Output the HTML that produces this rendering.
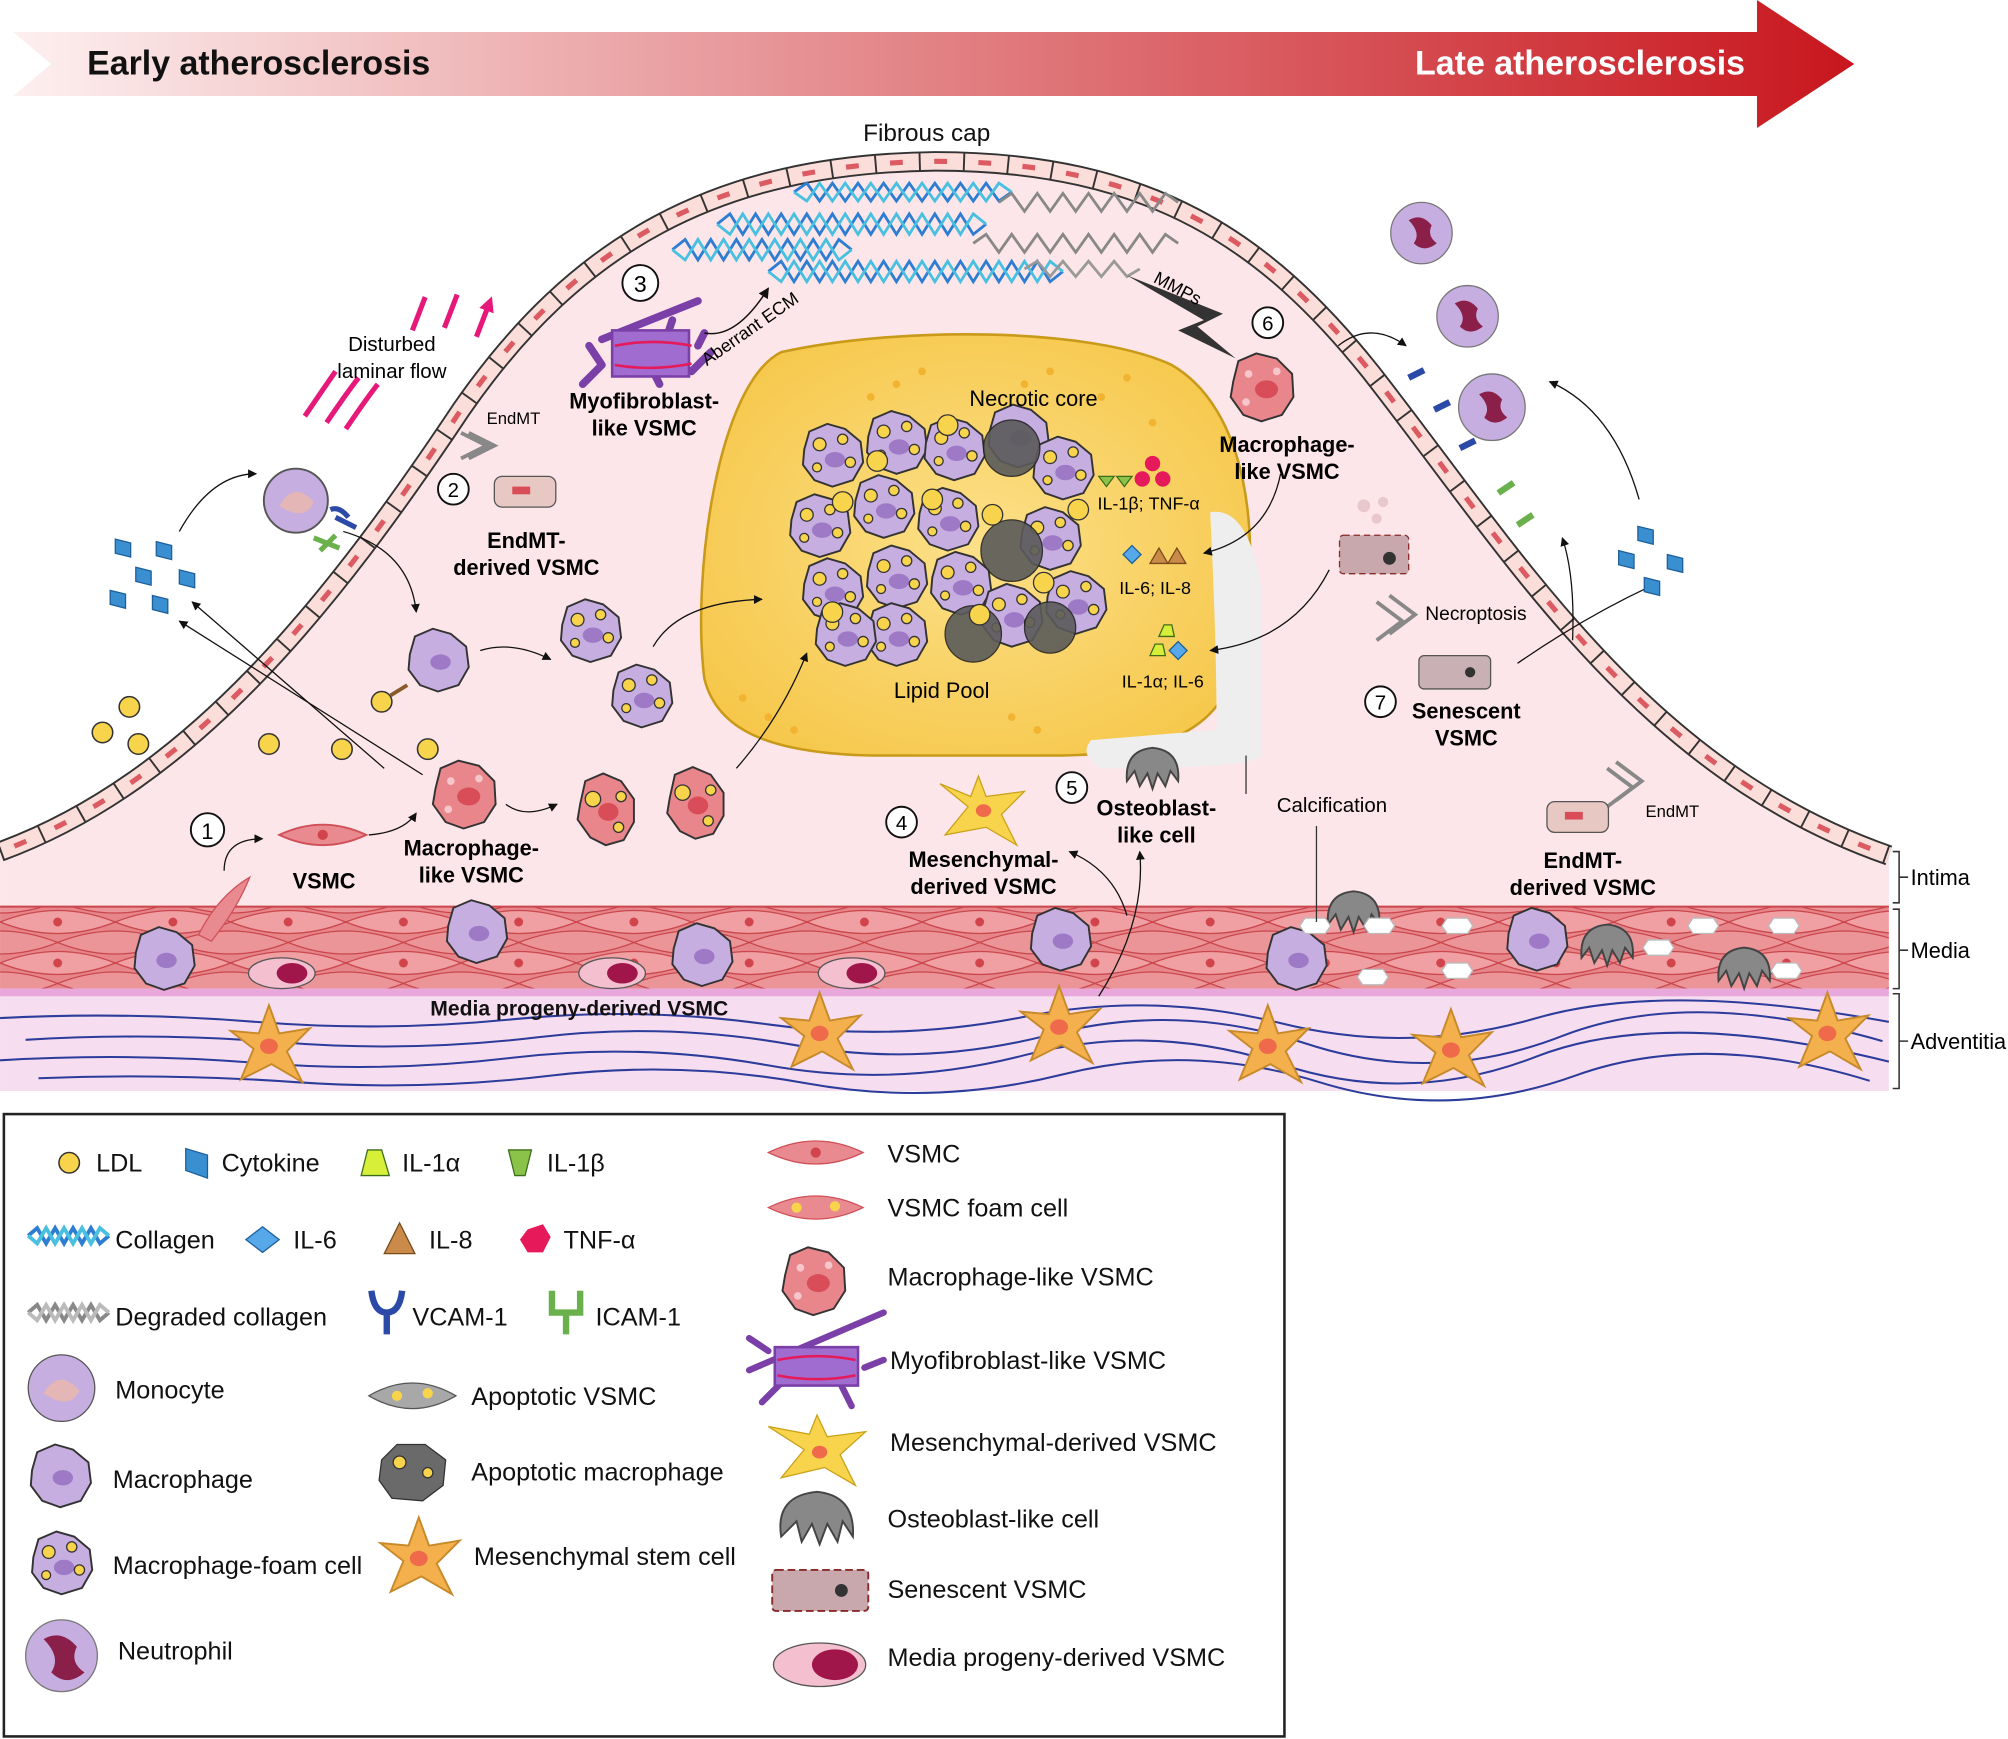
<!DOCTYPE html>
<html><head><meta charset="utf-8"><style>
html,body{margin:0;padding:0;background:#fff;}
svg{display:block;}
text{font-family:"Liberation Sans",Arial,sans-serif;}
.b{font-weight:bold;}
</style></head><body>
<svg width="2008" height="1739" viewBox="0 0 1568 1358" xmlns="http://www.w3.org/2000/svg">
<defs>
<linearGradient id="ag" x1="0" x2="1" y1="0" y2="0">
<stop offset="0" stop-color="#fdf0f0"/><stop offset="0.35" stop-color="#eaa2a4"/><stop offset="1" stop-color="#c8161d"/>
</linearGradient>
<radialGradient id="lp" cx="0.5" cy="0.5" r="0.6"><stop offset="0" stop-color="#fce089"/><stop offset="1" stop-color="#f6c74a"/></radialGradient>
<pattern id="med" width="90" height="32" patternUnits="userSpaceOnUse">
<rect width="90" height="32" fill="#e7868a"/>
<path d="M0,16 Q45,-2 90,16 Q45,34 0,16Z" fill="#f0a0a3" stroke="#c9464c" stroke-width="1"/>
<path d="M-45,0 Q0,-18 45,0 Q0,18 -45,0Z M45,0 Q90,-18 135,0 Q90,18 45,0Z M-45,32 Q0,14 45,32 Q0,50 -45,32Z M45,32 Q90,14 135,32 Q90,50 45,32Z" fill="#eb9598" stroke="#c9464c" stroke-width="1"/>
<circle cx="45" cy="16" r="3.5" fill="#d1444c"/>
</pattern>
<marker id="ar" viewBox="0 0 10 10" refX="9" refY="5" markerWidth="7" markerHeight="7" orient="auto"><path d="M0,0L10,5L0,10Z" fill="#111"/></marker>
<marker id="pk" viewBox="0 0 10 10" refX="5" refY="5" markerWidth="12" markerHeight="12" markerUnits="userSpaceOnUse" orient="auto"><path d="M0,0L10,5L0,10Z" fill="#e6197a"/></marker>
<g id="mac"><path d="M-22,-4 L-18,-18 L-4,-24 L10,-20 L22,-10 L24,6 L16,20 L0,25 L-14,20 L-23,8Z" fill="#c7aee0" stroke="#333" stroke-width="1.5"/><ellipse cx="2" cy="2" rx="8" ry="6" fill="#9d79c6"/></g>
<g id="foam"><path d="M-22,-4 L-18,-18 L-4,-24 L10,-20 L22,-10 L24,6 L16,20 L0,25 L-14,20 L-23,8Z" fill="#c7aee0" stroke="#333" stroke-width="1.5"/><ellipse cx="2" cy="4" rx="8" ry="6" fill="#9d79c6"/><circle cx="-10" cy="-8" r="5" fill="#f8d34c" stroke="#333"/><circle cx="8" cy="-12" r="4" fill="#f8d34c" stroke="#333"/><circle cx="14" cy="6" r="4" fill="#f8d34c" stroke="#333"/><circle cx="-12" cy="10" r="3.5" fill="#f8d34c" stroke="#333"/></g>
<g id="mvs"><path d="M-22,-4 L-18,-20 L-4,-26 L12,-22 L24,-10 L25,8 L16,22 L0,27 L-14,22 L-24,8Z" fill="#e8868c" stroke="#333" stroke-width="1.5"/><ellipse cx="4" cy="2" rx="9" ry="7" fill="#d94d58"/><circle cx="-10" cy="-10" r="3" fill="#f6c6cb"/><circle cx="12" cy="-12" r="3" fill="#f6c6cb"/><circle cx="-12" cy="12" r="3" fill="#f6c6cb"/></g>
<g id="mvsf"><path d="M-20,-4 L-16,-22 L-2,-28 L12,-22 L22,-8 L22,10 L14,24 L0,28 L-12,22 L-22,8Z" fill="#e8868c" stroke="#333" stroke-width="1.5"/><ellipse cx="2" cy="2" rx="8" ry="7" fill="#d94d58"/><circle cx="-10" cy="-8" r="6" fill="#f8d34c" stroke="#333"/><circle cx="12" cy="-10" r="4" fill="#f8d34c" stroke="#333"/><circle cx="10" cy="14" r="4" fill="#f8d34c" stroke="#333"/></g>
<g id="msc"><path d="M0,-30 L8,-8 L32,-12 L14,6 L26,30 L2,16 L-22,28 L-12,4 L-30,-10 L-8,-8Z" fill="#f4b04d" stroke="#c68a2a" stroke-width="1.5"/><ellipse cx="0" cy="2" rx="7" ry="6" fill="#ef6a4a"/></g>
<g id="vs"><path d="M-34,0 Q0,-16 34,0 Q0,16 -34,0Z" fill="#e98a90" stroke="#d05058" stroke-width="1.5"/><circle cx="0" cy="0" r="4" fill="#d1444c"/></g>
<g id="osteo"><path d="M-20,10 Q-22,-14 0,-16 Q22,-14 20,10 L14,2 L10,14 L4,4 L0,16 L-4,4 L-10,14 L-14,2Z" fill="#888" stroke="#444" stroke-width="1.5"/></g>
<g id="wh"><path d="M-8,-6 L8,-6 L12,0 L8,6 L-8,6 L-12,0Z" fill="#fff" stroke="#bbb"/></g>
<g id="cyt"><path d="M-6,-7 L6,-4 L6,7 L-6,4Z" fill="#3a8fd0" stroke="#1d5f9a"/></g>
<g id="ldl"><circle r="8" fill="#f8d34c" stroke="#333" stroke-width="1.2"/></g>
<g id="il6"><path d="M0,-7 L7,0 L0,7 L-7,0Z" fill="#56a8e8" stroke="#1d5f9a"/></g>
</defs>

<!-- top arrow -->
<path d="M10,25 L1372,25 L1372,0 L1448,50 L1372,100 L1372,75 L10,75 L40,50Z" fill="url(#ag)"/>
<text x="68" y="58" font-size="26.5" class="b" fill="#111">Early atherosclerosis</text>
<text x="1105" y="58" font-size="26.5" class="b" fill="#fff">Late atherosclerosis</text>

<!-- intima -->
<path d="M0,665 C150,610 260,470 360,320 C450,190 560,128 730,126 C900,126 990,190 1070,290 C1180,430 1280,600 1475,668 L1475,708 L0,708Z" fill="#fde6e9"/>
<path d="M0,665 C150,610 260,470 360,320 C450,190 560,128 730,126 C900,126 990,190 1070,290 C1180,430 1280,600 1475,668" fill="none" stroke="#333" stroke-width="16"/>
<path d="M0,665 C150,610 260,470 360,320 C450,190 560,128 730,126 C900,126 990,190 1070,290 C1180,430 1280,600 1475,668" fill="none" stroke="#fbded9" stroke-width="13"/>
<path d="M0,665 C150,610 260,470 360,320 C450,190 560,128 730,126 C900,126 990,190 1070,290 C1180,430 1280,600 1475,668" fill="none" stroke="#333" stroke-width="14" stroke-dasharray="1.5 33"/>
<path d="M0,665 C150,610 260,470 360,320 C450,190 560,128 730,126 C900,126 990,190 1070,290 C1180,430 1280,600 1475,668" fill="none" stroke="#dc5a62" stroke-width="4" stroke-dasharray="0 12 10 12.5"/>
<text x="674" y="110" font-size="19" fill="#111">Fibrous cap</text>

<!-- media & adventitia -->
<rect x="0" y="708" width="1475" height="64" fill="url(#med)"/>
<line x1="0" y1="708" x2="1475" y2="708" stroke="#c9464c" stroke-width="1.5"/>
<rect x="0" y="772" width="1475" height="80" fill="#f7ddf0"/>
<rect x="0" y="772" width="1475" height="6" fill="#e8a8dc"/>
<g fill="none" stroke="#2b3c9a" stroke-width="1.6">
<path d="M0,795 Q100,790 200,798 T400,796 T600,800 T800,794 T1000,799 T1200,795 T1475,798"/>
<path d="M20,812 Q120,806 220,814 T420,810 T620,816 T820,808 T1020,815 T1220,809 T1470,813"/>
<path d="M0,828 Q100,822 200,830 T400,826 T600,832 T800,824 T1000,831 T1200,825 T1475,829"/>
<path d="M30,842 Q130,838 230,845 T430,840 T630,846 T830,839 T1030,845 T1230,840 T1460,844"/>
</g>
<use href="#mac" x="128" y="748"/>
<use href="#mac" x="372" y="727"/><use href="#mac" x="548" y="745"/><use href="#mac" x="828" y="733"/><use href="#mac" x="1012" y="748"/><use href="#mac" x="1200" y="733"/>
<g><ellipse cx="220" cy="760" rx="26" ry="12" fill="#f4c0d0" stroke="#555"/><ellipse cx="228" cy="760" rx="12" ry="8" fill="#a0154a"/></g>
<g><ellipse cx="478" cy="760" rx="26" ry="12" fill="#f4c0d0" stroke="#555"/><ellipse cx="486" cy="760" rx="12" ry="8" fill="#a0154a"/></g>
<g><ellipse cx="665" cy="760" rx="26" ry="12" fill="#f4c0d0" stroke="#555"/><ellipse cx="673" cy="760" rx="12" ry="8" fill="#a0154a"/></g>
<use href="#osteo" x="1057" y="712"/><use href="#osteo" x="1255" y="738"/><use href="#osteo" x="1362" y="756"/>
<use href="#wh" x="1027" y="723"/><use href="#wh" x="1077" y="723"/><use href="#wh" x="1138" y="723"/><use href="#wh" x="1072" y="763"/><use href="#wh" x="1138" y="758"/><use href="#wh" x="1295" y="740"/><use href="#wh" x="1330" y="723"/><use href="#wh" x="1393" y="723"/><use href="#wh" x="1395" y="758"/>
<use href="#msc" x="210" y="815"/><use href="#msc" x="640" y="805"/><use href="#msc" x="827" y="800"/><use href="#msc" x="990" y="815"/><use href="#msc" x="1133" y="818"/><use href="#msc" x="1427" y="805"/>
<text x="336" y="793" font-size="16.5" class="b" fill="#111">Media progeny-derived VSMC</text>
<g stroke="#333" stroke-width="1.2" fill="none"><path d="M1478,665 L1483,665 L1483,705 L1478,705 M1483,685 L1490,685"/><path d="M1478,710 L1483,710 L1483,772 L1478,772 M1483,742 L1490,742"/><path d="M1478,776 L1483,776 L1483,850 L1478,850 M1483,813 L1490,813"/></g>
<text x="1492" y="691" font-size="17">Intima</text><text x="1492" y="748" font-size="17">Media</text><text x="1492" y="819" font-size="17">Adventitia</text>

<!-- collagen -->
<g fill="none" stroke-width="2.2">
<path d="M525,195 l10,-8 l10,16 l10,-16 l10,16 l10,-16 l10,16 l10,-16 l10,16 l10,-16 l10,16 l10,-16 l10,16 l10,-16 l10,8" stroke="#2d7dd2"/>
<path d="M525,195 l10,8 l10,-16 l10,16 l10,-16 l10,16 l10,-16 l10,16 l10,-16 l10,16 l10,-16 l10,16 l10,-16 l10,16 l10,-8" stroke="#49c0e0"/>
<path d="M560,175 l10,-8 l10,16 l10,-16 l10,16 l10,-16 l10,16 l10,-16 l10,16 l10,-16 l10,16 l10,-16 l10,16 l10,-16 l10,16 l10,-16 l10,16 l10,-16 l10,16 l10,-16 l10,16 l10,-8" stroke="#2d7dd2"/>
<path d="M560,175 l10,8 l10,-16 l10,16 l10,-16 l10,16 l10,-16 l10,16 l10,-16 l10,16 l10,-16 l10,16 l10,-16 l10,16 l10,-16 l10,16 l10,-16 l10,16 l10,-16 l10,16 l10,-16 l10,8" stroke="#49c0e0"/>
<path d="M600,212 l10,-8 l10,16 l10,-16 l10,16 l10,-16 l10,16 l10,-16 l10,16 l10,-16 l10,16 l10,-16 l10,16 l10,-16 l10,16 l10,-16 l10,16 l10,-16 l10,16 l10,-16 l10,16 l10,-16 l10,16 l10,-8" stroke="#2d7dd2"/>
<path d="M600,212 l10,8 l10,-16 l10,16 l10,-16 l10,16 l10,-16 l10,16 l10,-16 l10,16 l10,-16 l10,16 l10,-16 l10,16 l10,-16 l10,16 l10,-16 l10,16 l10,-16 l10,16 l10,-16 l10,16 l10,-16 l10,8" stroke="#49c0e0"/>
<path d="M620,150 l10,-7 l10,14 l10,-14 l10,14 l10,-14 l10,14 l10,-14 l10,14 l10,-14 l10,14 l10,-14 l10,14 l10,-14 l10,14 l10,-14 l10,14 l10,-7" stroke="#2d7dd2"/>
<path d="M620,150 l10,7 l10,-14 l10,14 l10,-14 l10,14 l10,-14 l10,14 l10,-14 l10,14 l10,-14 l10,14 l10,-14 l10,14 l10,-14 l10,14 l10,-14 l10,7" stroke="#49c0e0"/>
<path d="M780,158 l10,-7 l10,14 l10,-14 l10,14 l10,-14 l10,14 l10,-14 l10,14 l10,-14 l10,14 l10,-14 l10,14 l10,-14 l10,7" stroke="#888"/>
<path d="M760,190 l10,-7 l10,14 l10,-14 l10,14 l10,-14 l10,14 l10,-14 l10,14 l10,-14 l10,14 l10,-14 l10,14 l10,-14 l10,14 l10,-14 l10,7" stroke="#888"/>
<path d="M800,210 l10,-6 l10,12 l10,-12 l10,12 l10,-12 l10,12 l10,-12 l10,12 l10,-6" stroke="#999"/>
</g>
<path d="M880,215 L955,245 L935,255 L965,280 L920,258 L940,250Z" fill="#333"/>
<text x="900" y="220" font-size="14" transform="rotate(28 900 220)">MMPs</text>

<!-- lipid pool -->
<path d="M610,275 C700,255 850,255 915,285 C975,320 985,420 970,500 C960,560 930,590 820,590 L680,590 C600,588 560,570 550,530 C540,450 560,300 610,275Z" fill="url(#lp)" stroke="#c99a1a" stroke-width="2"/>
<path d="M945,400 Q975,395 985,460 L985,590 Q980,600 860,600 Q842,590 852,578 L950,570 Q950,500 945,400Z" fill="#eeeeee"/>
<g fill="#f2b330"><circle cx="800" cy="300" r="3"/><circle cx="820" cy="290" r="3"/><circle cx="860" cy="310" r="3"/><circle cx="880" cy="295" r="3"/><circle cx="900" cy="330" r="3"/><circle cx="600" cy="560" r="3"/><circle cx="620" cy="570" r="3"/><circle cx="580" cy="545" r="3"/><circle cx="790" cy="560" r="3"/><circle cx="810" cy="570" r="3"/><circle cx="700" cy="300" r="3"/><circle cx="720" cy="290" r="3"/><circle cx="680" cy="310" r="3"/></g>
<g>
<use href="#foam" x="650" y="355"/><use href="#foam" x="700" y="345"/><use href="#foam" x="745" y="350"/><use href="#mac" x="795" y="340"/>
<use href="#foam" x="640" y="410"/><use href="#foam" x="690" y="395"/><use href="#foam" x="740" y="405"/><use href="#foam" x="830" y="365"/>
<use href="#foam" x="650" y="460"/><use href="#foam" x="700" y="450"/><use href="#foam" x="750" y="455"/><use href="#foam" x="820" y="420"/>
<use href="#foam" x="700" y="495"/><use href="#foam" x="790" y="480"/><use href="#foam" x="840" y="470"/><use href="#foam" x="660" y="495"/>
<g fill="#5a5a5a" stroke="#222" opacity="0.9"><circle cx="790" cy="350" r="22"/><circle cx="790" cy="430" r="24"/><circle cx="760" cy="495" r="22"/><circle cx="820" cy="490" r="20"/></g>
<g fill="#f8d34c" stroke="#333"><circle cx="685" cy="360" r="8"/><circle cx="740" cy="332" r="8"/><circle cx="658" cy="392" r="8"/><circle cx="775" cy="402" r="8"/><circle cx="728" cy="390" r="8"/><circle cx="815" cy="455" r="8"/><circle cx="650" cy="478" r="8"/><circle cx="765" cy="480" r="8"/><circle cx="842" cy="398" r="8"/></g>
</g>
<text x="757" y="317" font-size="17">Necrotic core</text>
<text x="698" y="545" font-size="17">Lipid Pool</text>
<path d="M858,372 L864,380 L870,372Z M872,372 L878,380 L884,372Z" fill="#8bc34a" stroke="#3b6e1a"/>
<g fill="#e6195a"><circle cx="900" cy="362" r="6"/><circle cx="892" cy="374" r="6"/><circle cx="908" cy="374" r="6"/></g>
<text x="857" y="398" font-size="14">IL-1β; TNF-α</text>
<use href="#il6" x="884" y="433"/><path d="M898,440 L905,428 L912,440Z M912,440 L919,428 L926,440Z" fill="#c98a4a" stroke="#7a4a1a"/>
<text x="874" y="464" font-size="14">IL-6; IL-8</text>
<path d="M905,497 L909,488 L915,488 L917,497Z" fill="#d8ef3a" stroke="#3b6e1a"/><path d="M898,512 L902,503 L908,503 L910,512Z" fill="#d8ef3a" stroke="#3b6e1a"/><use href="#il6" x="920" y="508"/>
<text x="876" y="537" font-size="14">IL-1α; IL-6</text>
<text x="997" y="634" font-size="16">Calcification</text>
<line x1="973" y1="590" x2="973" y2="620" stroke="#333"/><line x1="1028" y1="645" x2="1028" y2="720" stroke="#333"/>

<!-- disturbed flow -->
<path d="M322,258 L332,232 M347,256 L357,230 M372,263 L382,237" stroke="#e6197a" stroke-width="4" fill="none" marker-end="url(#pk)"/>
<path d="M238,325 Q255,300 262,290 M255,330 Q272,305 280,295 M270,335 Q287,310 295,300" stroke="#e6197a" stroke-width="4" fill="none"/>
<text x="306" y="274" font-size="16" text-anchor="middle">Disturbed</text><text x="306" y="295" font-size="16" text-anchor="middle">laminar flow</text>
<text x="380" y="331" font-size="13">EndMT</text>
<path d="M360,338 L380,348 L360,358 M366,338 L386,348 L366,358" stroke="#888" fill="none" stroke-width="3"/>
<rect x="386" y="372" width="48" height="24" rx="6" fill="#e8c8c2" stroke="#555"/><rect x="400" y="380" width="14" height="6" fill="#d94d58"/>
<circle cx="354" cy="382" r="12" fill="#fff" stroke="#111" stroke-width="1.5"/><text x="354" y="388" font-size="16" text-anchor="middle">2</text>
<text x="411" y="428" font-size="17" class="b" text-anchor="middle">EndMT-</text><text x="411" y="449" font-size="17" class="b" text-anchor="middle">derived VSMC</text>
<g stroke="#7b3fa8" stroke-width="6" stroke-linecap="round" fill="none"><path d="M470,265 L545,235 M470,285 L460,270 M470,285 L455,300 M510,290 L515,300 M540,290 L555,275 M545,270 L550,260 M520,265 L525,250"/></g>
<rect x="478" y="258" width="60" height="36" fill="#a06ccf" stroke="#7b3fa8" stroke-width="2"/><path d="M480,270 Q510,264 540,270 M480,285 Q510,290 540,284" stroke="#e6195a" stroke-width="2" fill="none"/>
<circle cx="500" cy="221" r="14" fill="#fff" stroke="#111" stroke-width="1.5"/><text x="500" y="228" font-size="18" text-anchor="middle">3</text>
<text x="503" y="319" font-size="17" class="b" text-anchor="middle">Myofibroblast-</text><text x="503" y="340" font-size="17" class="b" text-anchor="middle">like VSMC</text>
<path d="M550,260 Q575,265 600,225" stroke="#111" fill="none" stroke-width="1.2" marker-end="url(#ar)"/>
<text x="552" y="286" font-size="14" transform="rotate(-35 552 286)">Aberrant ECM</text>
<circle cx="231" cy="391" r="25" fill="#c7aee0" stroke="#555" stroke-width="1.5"/><path d="M218,395 Q230,375 245,392 Q238,408 218,395Z" fill="#e4b6b6"/>
<path d="M258,398 Q265,395 272,404 M262,404 L278,412" stroke="#2b4aa8" stroke-width="4" fill="none"/>
<path d="M245,420 L265,428 M250,430 L262,418" stroke="#6ab04c" stroke-width="4" fill="none"/>
<g><use href="#cyt" x="96" y="428"/><use href="#cyt" x="128" y="430"/><use href="#cyt" x="112" y="450"/><use href="#cyt" x="146" y="452"/><use href="#cyt" x="92" y="468"/><use href="#cyt" x="125" y="472"/></g>
<path d="M140,415 Q165,370 200,370" stroke="#111" fill="none" marker-end="url(#ar)"/>
<path d="M268,415 Q320,430 325,478" stroke="#111" fill="none" marker-end="url(#ar)"/>
<path d="M330,605 L140,485" stroke="#111" fill="none" marker-end="url(#ar)"/>
<path d="M300,600 L150,470" stroke="#111" fill="none" marker-end="url(#ar)"/>
<use href="#mac" x="342" y="515"/><use href="#ldl" x="298" y="548"/><path d="M305,543 L318,535" stroke="#8a5a2a" stroke-width="3"/>
<path d="M375,508 Q400,500 430,515" stroke="#111" fill="none" marker-end="url(#ar)"/>
<use href="#foam" x="461" y="492"/><use href="#foam" x="501" y="543"/>
<path d="M510,505 Q530,470 595,468" stroke="#111" fill="none" marker-end="url(#ar)"/>
<use href="#ldl" x="80" y="572"/><use href="#ldl" x="101" y="552"/><use href="#ldl" x="108" y="581"/><use href="#ldl" x="210" y="581"/><use href="#ldl" x="267" y="585"/><use href="#ldl" x="334" y="585"/>
<use href="#mvs" x="362" y="620"/>
<path d="M395,628 Q410,640 435,628" stroke="#111" fill="none" marker-end="url(#ar)"/>
<use href="#mvsf" x="473" y="632"/><use href="#mvsf" x="543" y="627"/>
<path d="M575,600 Q610,560 630,510" stroke="#111" fill="none" marker-end="url(#ar)"/>
<circle cx="162" cy="648" r="13" fill="#fff" stroke="#111" stroke-width="1.5"/><text x="162" y="655" font-size="17" text-anchor="middle">1</text>
<path d="M175,680 Q175,655 205,655" stroke="#111" fill="none" marker-end="url(#ar)"/>
<use href="#vs" x="252" y="652"/>
<path d="M288,652 Q315,650 325,635" stroke="#111" fill="none" marker-end="url(#ar)"/>
<path d="M155,730 Q170,700 195,685 Q185,710 165,735Z" fill="#e98a90" stroke="#d05058"/>
<text x="253" y="694" font-size="17" class="b" text-anchor="middle">VSMC</text>
<text x="368" y="668" font-size="17" class="b" text-anchor="middle">Macrophage-</text><text x="368" y="689" font-size="17" class="b" text-anchor="middle">like VSMC</text>
<circle cx="704" cy="642" r="12" fill="#fff" stroke="#111" stroke-width="1.5"/><text x="704" y="648" font-size="16" text-anchor="middle">4</text>
<path d="M764,606 L770,622 L800,618 L782,636 L794,660 L770,646 L738,652 L756,630 L734,612 L758,622Z" fill="#f8d34c" stroke="#c9a21a"/><ellipse cx="768" cy="633" rx="6" ry="5" fill="#ef6a4a"/>
<text x="768" y="677" font-size="17" class="b" text-anchor="middle">Mesenchymal-</text><text x="768" y="698" font-size="17" class="b" text-anchor="middle">derived VSMC</text>
<path d="M880,715 Q870,680 835,665" stroke="#111" fill="none" marker-end="url(#ar)"/>
<path d="M858,778 Q895,720 890,665" stroke="#111" fill="none" marker-end="url(#ar)"/>
<circle cx="837" cy="615" r="12" fill="#fff" stroke="#111" stroke-width="1.5"/><text x="837" y="621" font-size="16" text-anchor="middle">5</text>
<use href="#osteo" x="900" y="600"/>
<text x="903" y="637" font-size="17" class="b" text-anchor="middle">Osteoblast-</text><text x="903" y="658" font-size="17" class="b" text-anchor="middle">like cell</text>
<circle cx="990" cy="252" r="12" fill="#fff" stroke="#111" stroke-width="1.5"/><text x="990" y="258" font-size="16" text-anchor="middle">6</text>
<use href="#mvs" x="985" y="302"/>
<text x="1005" y="353" font-size="17" class="b" text-anchor="middle">Macrophage-</text><text x="1005" y="374" font-size="17" class="b" text-anchor="middle">like VSMC</text>
<path d="M1000,370 Q990,420 940,432" stroke="#111" fill="none" marker-end="url(#ar)"/>
<path d="M1038,445 Q1010,500 945,508" stroke="#111" fill="none" marker-end="url(#ar)"/>
<path d="M1045,270 Q1070,250 1098,270" stroke="#111" fill="none" marker-end="url(#ar)"/>
<g><circle cx="1110" cy="182" r="24" fill="#c7aee0" stroke="#777"/><path d="M1100,172 q10,-6 18,4 q-4,8 4,14 q-10,8 -18,0 q6,-8 -4,-18z" fill="#8a1f4a"/></g>
<g><circle cx="1146" cy="247" r="24" fill="#c7aee0" stroke="#777"/><path d="M1136,237 q10,-6 18,4 q-4,8 4,14 q-10,8 -18,0 q6,-8 -4,-18z" fill="#8a1f4a"/></g>
<g><circle cx="1165" cy="318" r="26" fill="#c7aee0" stroke="#777"/><path d="M1155,308 q10,-6 18,4 q-4,8 4,14 q-10,8 -18,0 q6,-8 -4,-18z" fill="#8a1f4a"/></g>
<path d="M1100,295 l12,-6 M1120,320 l12,-6 M1140,350 l12,-6" stroke="#2b4aa8" stroke-width="5"/>
<path d="M1170,385 l12,-8 M1185,410 l12,-8" stroke="#6ab04c" stroke-width="5"/>
<path d="M1280,390 Q1260,320 1210,298" stroke="#111" fill="none" marker-end="url(#ar)"/>
<path d="M1185,518 Q1240,480 1295,455" stroke="#111" fill="none" marker-end="url(#ar)"/>
<path d="M1228,500 Q1230,450 1220,420" stroke="#111" fill="none" marker-end="url(#ar)"/>
<use href="#cyt" x="1285" y="418"/><use href="#cyt" x="1270" y="437"/><use href="#cyt" x="1308" y="440"/><use href="#cyt" x="1290" y="458"/>
<rect x="1046" y="418" width="54" height="30" rx="3" fill="#c8a8ac" stroke="#8a2a2a" stroke-dasharray="5 3"/><circle cx="1085" cy="436" r="5" fill="#333"/>
<circle cx="1065" cy="395" r="5" fill="#e8c8cc"/><circle cx="1080" cy="392" r="4" fill="#e8c8cc"/><circle cx="1075" cy="405" r="4" fill="#e8c8cc"/>
<path d="M1075,470 L1095,485 L1075,500 M1085,465 L1105,480 L1085,495" stroke="#888" stroke-width="3" fill="none"/>
<text x="1113" y="484" font-size="15">Necroptosis</text>
<rect x="1108" y="512" width="56" height="26" rx="4" fill="#c8b0b4" stroke="#555"/><circle cx="1148" cy="525" r="4" fill="#333"/>
<circle cx="1078" cy="548" r="12" fill="#fff" stroke="#111" stroke-width="1.5"/><text x="1078" y="554" font-size="16" text-anchor="middle">7</text>
<text x="1145" y="561" font-size="17" class="b" text-anchor="middle">Senescent</text><text x="1145" y="582" font-size="17" class="b" text-anchor="middle">VSMC</text>
<path d="M1255,600 L1275,615 L1255,630 M1262,595 L1282,610 L1262,625" stroke="#888" stroke-width="3" fill="none"/>
<text x="1285" y="638" font-size="13">EndMT</text>
<rect x="1208" y="626" width="48" height="24" rx="6" fill="#e8c8c2" stroke="#555"/><rect x="1222" y="634" width="14" height="6" fill="#d94d58"/>
<text x="1236" y="678" font-size="17" class="b" text-anchor="middle">EndMT-</text><text x="1236" y="699" font-size="17" class="b" text-anchor="middle">derived VSMC</text>

<!-- legend -->
<rect x="3" y="870" width="1000" height="486" fill="#fff" stroke="#222" stroke-width="2"/>
<g font-size="19.7" fill="#111">
<use href="#ldl" x="54" y="908"/><text x="75" y="915">LDL</text>
<path d="M145,897 L162,902 L162,920 L145,914Z" fill="#3a8fd0" stroke="#1d5f9a"/><text x="173" y="915">Cytokine</text>
<path d="M282,918 L287,898 L298,898 L304,918Z" fill="#d8ef3a" stroke="#3b6e1a"/><text x="314" y="915">IL-1α</text>
<path d="M397,898 L415,898 L410,918 L402,918Z" fill="#8bc34a" stroke="#3b6e1a"/><text x="427" y="915">IL-1β</text>
<path d="M22,965 l7,-6 l7,12 l7,-12 l7,12 l7,-12 l7,12 l7,-12 l7,12 l7,-6" fill="none" stroke="#2d7dd2" stroke-width="3"/><path d="M22,965 l7,6 l7,-12 l7,12 l7,-12 l7,12 l7,-12 l7,12 l7,-12 l7,6" fill="none" stroke="#49c0e0" stroke-width="3"/><text x="90" y="975">Collagen</text>
<path d="M205,958 L218,968 L205,978 L192,968Z" fill="#56a8e8" stroke="#1d5f9a"/><text x="229" y="975">IL-6</text>
<path d="M300,979 L312,955 L324,979Z" fill="#c98a4a" stroke="#7a4a1a"/><text x="335" y="975">IL-8</text>
<path d="M412,960 L424,956 L430,966 L424,978 L412,978 L406,968Z" fill="#e6195a"/><text x="440" y="975">TNF-α</text>
<path d="M22,1025 l7,-6 l7,12 l7,-12 l7,12 l7,-12 l7,12 l7,-12 l7,12 l7,-6" fill="none" stroke="#888" stroke-width="3"/><path d="M22,1025 l7,6 l7,-12 l7,12 l7,-12 l7,12 l7,-12 l7,12 l7,-12 l7,6" fill="none" stroke="#bbb" stroke-width="3"/><text x="90" y="1035">Degraded collagen</text>
<path d="M290,1008 Q292,1025 302,1025 Q312,1025 314,1008 M302,1025 L302,1042" fill="none" stroke="#2b4aa8" stroke-width="5"/><text x="322" y="1035">VCAM-1</text>
<path d="M431,1008 L431,1025 L453,1025 L453,1008 M442,1025 L442,1042" fill="none" stroke="#6ab04c" stroke-width="5"/><text x="465" y="1035">ICAM-1</text>
<circle cx="48" cy="1084" r="26" fill="#c7aee0" stroke="#555"/><path d="M34,1088 Q46,1068 62,1086 Q54,1102 34,1088Z" fill="#e4b6b6"/><text x="90" y="1092">Monocyte</text>
<use href="#mac" x="47" y="1152"/><text x="88" y="1162">Macrophage</text>
<use href="#foam" x="48" y="1220"/><text x="88" y="1229">Macrophage-foam cell</text>
<circle cx="48" cy="1293" r="28" fill="#c7aee0" stroke="#777"/><path d="M34,1280 q14,-8 26,6 q-6,12 6,20 q-14,12 -26,0 q8,-12 -6,-26z" fill="#8a1f4a"/><text x="92" y="1296">Neutrophil</text>
<path d="M288,1090 Q322,1070 356,1090 Q322,1110 288,1090Z" fill="#a8a8a8" stroke="#555"/><circle cx="310" cy="1090" r="4" fill="#f8d34c"/><circle cx="334" cy="1088" r="4" fill="#f8d34c"/><text x="368" y="1097">Apoptotic VSMC</text>
<path d="M298,1140 L310,1128 L332,1128 L348,1140 L346,1160 L330,1172 L306,1170 L296,1156Z" fill="#6a6a6a" stroke="#333"/><circle cx="312" cy="1142" r="5" fill="#f8d34c" stroke="#333"/><circle cx="334" cy="1150" r="4" fill="#f8d34c" stroke="#333"/><text x="368" y="1156">Apoptotic macrophage</text>
<use href="#msc" x="327" y="1215"/><text x="370" y="1222">Mesenchymal stem cell</text>
<path d="M600,900 Q637,882 674,900 Q637,918 600,900Z" fill="#e98a90" stroke="#d05058"/><circle cx="637" cy="900" r="4" fill="#d1444c"/><text x="693" y="908">VSMC</text>
<path d="M600,943 Q637,925 674,943 Q637,961 600,943Z" fill="#e98a90" stroke="#d05058"/><circle cx="622" cy="943" r="4" fill="#f8d34c"/><circle cx="652" cy="942" r="4" fill="#f8d34c"/><text x="693" y="950">VSMC foam cell</text>
<use href="#mvs" x="635" y="1000"/><text x="693" y="1004">Macrophage-like VSMC</text>
<g stroke="#7b3fa8" stroke-width="5" stroke-linecap="round" fill="none"><path d="M585,1070 L690,1025 M600,1055 L585,1045 M610,1080 L595,1095 M655,1078 L665,1098 M675,1068 L690,1062"/></g>
<rect x="605" y="1052" width="65" height="30" fill="#a06ccf" stroke="#7b3fa8" stroke-width="2"/><path d="M607,1062 Q638,1056 668,1062 M607,1074 Q638,1080 668,1074" stroke="#e6195a" stroke-width="2" fill="none"/>
<text x="695" y="1069">Myofibroblast-like VSMC</text>
<path d="M638,1105 L646,1122 L676,1118 L656,1136 L668,1160 L644,1146 L610,1154 L628,1132 L600,1114 L632,1120Z" fill="#f8d34c" stroke="#c9a21a"/><ellipse cx="640" cy="1134" rx="6" ry="5" fill="#ef6a4a"/><text x="695" y="1133">Mesenchymal-derived VSMC</text>
<path d="M610,1200 Q605,1168 638,1165 Q668,1168 666,1200 L658,1188 L654,1204 L646,1190 L640,1206 L634,1190 L626,1204 L622,1188Z" fill="#888" stroke="#444" stroke-width="1.5"/><text x="693" y="1193">Osteoblast-like cell</text>
<rect x="603" y="1226" width="75" height="32" rx="3" fill="#c8a8ac" stroke="#8a2a2a" stroke-dasharray="6 3" stroke-width="1.5"/><circle cx="657" cy="1242" r="5" fill="#333"/><text x="693" y="1248">Senescent VSMC</text>
<ellipse cx="640" cy="1300" rx="36" ry="17" fill="#f4c0d0" stroke="#555"/><ellipse cx="652" cy="1300" rx="18" ry="12" fill="#a0154a"/><text x="693" y="1301">Media progeny-derived VSMC</text>
</g>
</svg>
</body></html>
